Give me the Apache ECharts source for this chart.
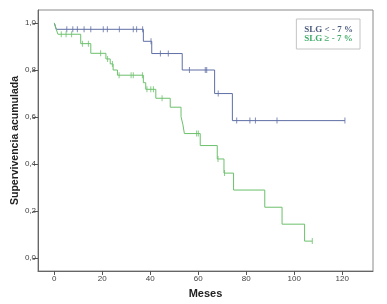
<!DOCTYPE html>
<html>
<head>
<meta charset="utf-8">
<script src="https://cdn.jsdelivr.net/npm/echarts@6/dist/echarts.min.js"></script>
<style>
html,body{margin:0;padding:0;background:#fff;}
#main{width:387px;height:304px;}
</style>
</head>
<body>
<div id="main"></div>
<script>
// Kaplan-Meier: SLG < -7% (azul)
var blueTimes = [0, 0.8, 37.1, 40.6, 53.3, 66.8, 74.2, 121.1];
var blueSurv = [1, 0.973, 0.922, 0.870, 0.800, 0.700, 0.585, 0.585];
var blueCens = [5.2, 7.7, 9.6, 12.4, 15.2, 20.4, 22.1, 27.1, 32.9, 34.3, 36.8, 40.3, 44.2, 47.5, 56.3, 62.9, 63.5, 68.3, 76, 81.5, 83.8, 92.8, 121.1];
// SLG >= -7% (verde)
var greenTimes = [0, 0.8, 1.5, 11, 15.2, 21.5, 23.3, 24.5, 26.3, 37.1, 38.1, 42.3, 48.3, 52.8, 53.6, 54.2, 60.8, 67.9, 70.7, 74.7, 87.7, 94.9, 104.3, 107.5];
var greenSurv = [1, 0.973, 0.952, 0.912, 0.871, 0.847, 0.826, 0.800, 0.778, 0.746, 0.718, 0.680, 0.642, 0.602, 0.567, 0.530, 0.479, 0.422, 0.362, 0.290, 0.217, 0.145, 0.073, 0.073];
var greenCens = [2.9, 4.9, 7.2, 11.7, 14.2, 19.3, 22.2, 24.2, 27, 32, 32.9, 36.7, 38.6, 40.2, 41.3, 44.9, 59.3, 60, 68.2, 70.9, 107.5];
var xTicks = [0, 20, 40, 60, 80, 100, 120];
var yTicks = [0, 0.2, 0.4, 0.6, 0.8, 1.0];

var blueName = 'SLG < - 7 %';
var greenName = 'SLG \u2265 - 7 %';

function pairs(t, s) {
    var out = [];
    for (var i = 0; i < t.length; i++) out.push([t[i], s[i]]);
    return out;
}
// valor de la curva en el tiempo de censura
function survAt(t, s, x) {
    var v = s[0];
    for (var i = 0; i < t.length; i++) {
        if (t[i] <= x) v = s[i];
    }
    return v;
}
function censPoints(t, s, c) {
    var out = [];
    for (var i = 0; i < c.length; i++) out.push([c[i], survAt(t, s, c[i])]);
    return out;
}

var blueColor = '#5f6fa6';
var greenColor = '#6cc06c';

var myChart = echarts.init(document.getElementById('main'));
var option = {
    animation: false,
    backgroundColor: '#fff',
    grid: {
        left: 38, top: 10, right: 14, bottom: 33,
        outerBoundsMode: 'none',
        containLabel: false,
        show: true, borderColor: '#8a8a8a', borderWidth: 1
    },
    legend: {
        right: 27, top: 19,
        orient: 'vertical',
        itemWidth: 0, itemHeight: 0, itemGap: 0,
        borderColor: '#c4c4c4', borderWidth: 1,
        padding: [6, 7, 6, 3],
        selectedMode: false,
        data: [
            {name: blueName, icon: 'none', textStyle: {color: '#4d5c7e'}},
            {name: greenName, icon: 'none', textStyle: {color: '#41ad6b'}}
        ],
        textStyle: {fontFamily: 'Liberation Serif', fontWeight: 'bold', fontSize: 9, padding: [0, 0, 0, 0], lineHeight: 8.7}
    },
    xAxis: {
        type: 'value',
        min: -6.8, max: 132.8,
        name: 'Meses',
        nameLocation: 'middle',
        nameGap: 17,
        nameMoveOverlap: false,
        nameTextStyle: {fontFamily: 'Liberation Sans', fontWeight: 'bold', fontSize: 11, color: '#222'},
        axisLine: {show: true, onZero: false, lineStyle: {color: '#666'}},
        axisTick: {show: true, length: 4, customValues: xTicks, lineStyle: {color: '#555'}},
        axisLabel: {customValues: xTicks, fontFamily: 'Liberation Sans', fontSize: 8, color: '#444', margin: 4},
        splitLine: {show: false}
    },
    yAxis: {
        type: 'value',
        min: -0.054, max: 1.055,
        name: 'Supervivencia acumulada',
        nameLocation: 'middle',
        nameRotate: 90,
        nameGap: 17,
        nameMoveOverlap: false,
        nameTextStyle: {fontFamily: 'Liberation Sans', fontWeight: 'bold', fontSize: 10.5, color: '#222'},
        axisLine: {show: true, onZero: false, lineStyle: {color: '#666'}},
        axisTick: {show: true, length: 5, customValues: yTicks, lineStyle: {color: '#555'}},
        axisLabel: {
            customValues: yTicks, fontFamily: 'Liberation Sans', fontSize: 8, color: '#444', margin: 2,
            formatter: function (v) { return v.toFixed(1).replace('.', ','); }
        },
        splitLine: {show: false}
    },
    series: [
        {
            name: blueName, type: 'line', step: 'end', symbol: 'none',
            lineStyle: {color: blueColor, width: 1}, itemStyle: {color: blueColor},
            data: pairs(blueTimes, blueSurv)
        },
        {
            name: greenName, type: 'line', step: 'end', symbol: 'none',
            lineStyle: {color: greenColor, width: 1}, itemStyle: {color: greenColor},
            data: pairs(greenTimes, greenSurv)
        },
        {
            name: blueName, type: 'scatter', symbol: 'rect', symbolSize: [1, 6],
            itemStyle: {color: blueColor}, silent: true,
            data: censPoints(blueTimes, blueSurv, blueCens)
        },
        {
            name: greenName, type: 'scatter', symbol: 'rect', symbolSize: [1, 6],
            itemStyle: {color: greenColor}, silent: true,
            data: censPoints(greenTimes, greenSurv, greenCens)
        }
    ]
};
myChart.setOption(option);
</script>
</body>
</html>
